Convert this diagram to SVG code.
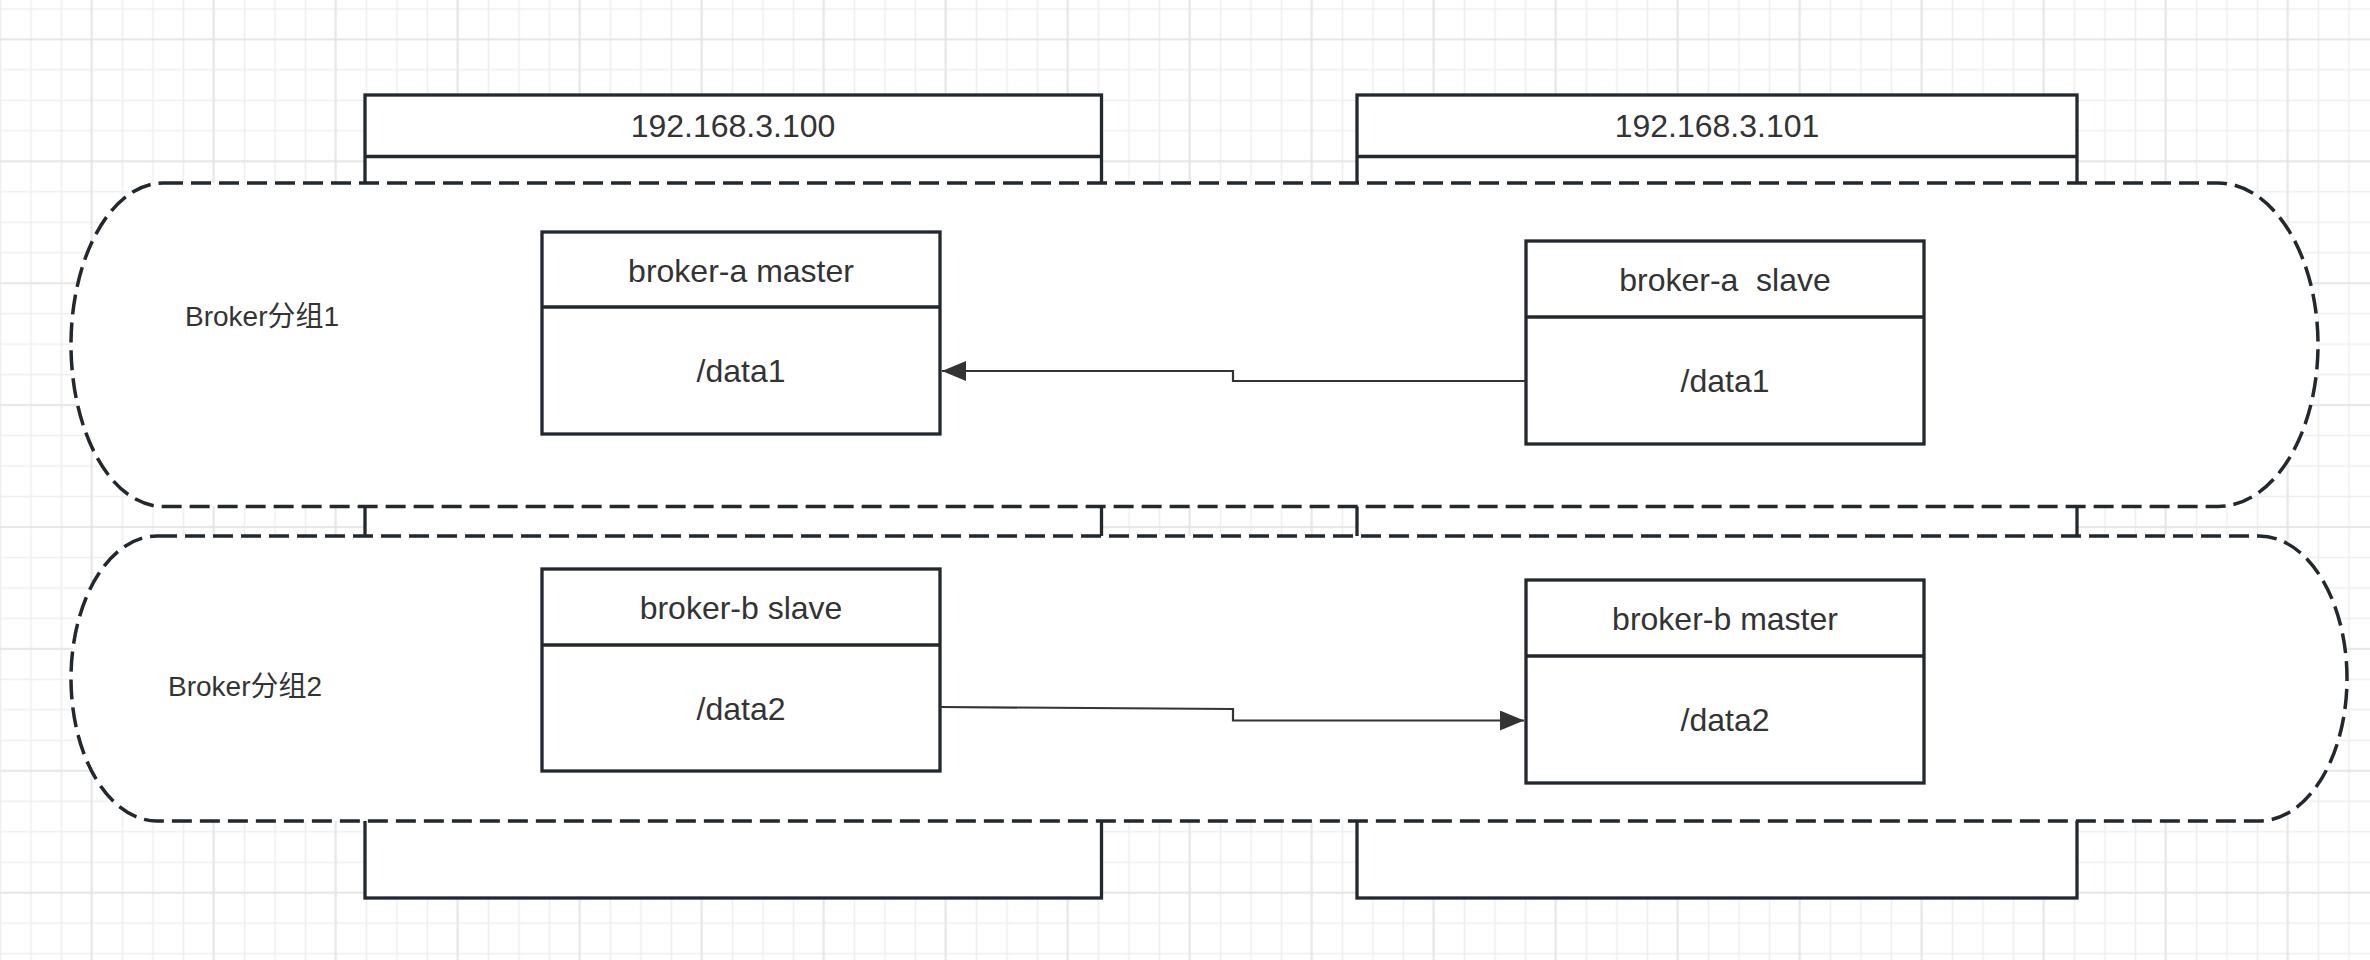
<svg xmlns="http://www.w3.org/2000/svg" width="2370" height="960" viewBox="0 0 2370 960">
  <defs>
    <pattern id="gridMinor" patternUnits="userSpaceOnUse" x="-14.75" y="-6.34" width="30.5" height="30.475">
      <path d="M15.25 0V30.475M0 15.2375H30.5" stroke="#efefef" stroke-width="1.6" fill="none"/>
    </pattern>
    <pattern id="gridMajor" patternUnits="userSpaceOnUse" x="30.5" y="-21.55" width="122" height="121.9">
      <path d="M61 0V121.9M0 60.95H122" stroke="#e4e4e4" stroke-width="1.6" fill="none"/>
    </pattern>
    <marker id="arrow" markerUnits="userSpaceOnUse" viewBox="0 0 24 20" refX="24" refY="10" markerWidth="24" markerHeight="20" orient="auto">
      <path d="M0 0L24 10L0 20Z" fill="#333333"/>
    </marker>
    <style>
      .box { fill: #ffffff; stroke: #22282e; stroke-width: 3.3; }
      .div { stroke: #22282e; stroke-width: 3.3; fill: none; }
      .group { fill: #ffffff; stroke: #22282e; stroke-width: 3.5; stroke-dasharray: 20 8; }
      .label { font-family: "Liberation Sans", Arial, "Noto Sans CJK SC", sans-serif; font-size: 32px; fill: #333333; text-anchor: middle; white-space: pre; }
      .glabel { font-family: "Liberation Sans", Arial, "Noto Sans CJK SC", sans-serif; font-size: 28px; fill: #333333; }
      .edge { fill: none; stroke: #333333; stroke-width: 2.2; }
    </style>
  </defs>

  <g id="background">
    <rect x="0" y="0" width="2370" height="960" fill="#ffffff"/>
    <rect x="0" y="0" width="2370" height="960" fill="url(#gridMinor)"/>
    <rect x="0" y="0" width="2370" height="960" fill="url(#gridMajor)"/>
  </g>

  <g id="host-100">
    <rect class="box" x="365" y="95" width="736.5" height="803"/>
    <line class="div" x1="365" y1="156.5" x2="1101.5" y2="156.5"/>
    <text class="label" x="733" y="137">192.168.3.100</text>
  </g>

  <g id="host-101">
    <rect class="box" x="1357" y="95" width="720" height="803"/>
    <line class="div" x1="1357" y1="156.5" x2="2077" y2="156.5"/>
    <text class="label" x="1717" y="137">192.168.3.101</text>
  </g>

  <g id="broker-group-1">
    <path class="group" d="M163,183 H2218 A100,161.75 0 0 1 2318,344.75 A100,161.75 0 0 1 2218,506.5 H163 A92,161.75 0 0 1 71,344.75 A92,161.75 0 0 1 163,183 Z"/>
    <text class="glabel" x="185" y="326">Broker分组1</text>
  </g>

  <g id="broker-group-2">
    <path class="group" d="M157,536 H2259 A88,142.5 0 0 1 2347,678.5 A88,142.5 0 0 1 2259,821 H157 A86,142.5 0 0 1 71,678.5 A86,142.5 0 0 1 157,536 Z"/>
    <text class="glabel" x="168" y="696">Broker分组2</text>
  </g>

  <g id="broker-a-master">
    <rect class="box" x="542" y="232" width="398" height="202"/>
    <line class="div" x1="542" y1="307" x2="940" y2="307"/>
    <text class="label" x="741" y="282">broker-a master</text>
    <text class="label" x="741" y="382">/data1</text>
  </g>

  <g id="broker-a-slave">
    <rect class="box" x="1526" y="241" width="398" height="203"/>
    <line class="div" x1="1526" y1="317" x2="1924" y2="317"/>
    <text class="label" x="1725" y="291">broker-a  slave</text>
    <text class="label" x="1725" y="392">/data1</text>
  </g>

  <g id="broker-b-slave">
    <rect class="box" x="542" y="569" width="398" height="202"/>
    <line class="div" x1="542" y1="645" x2="940" y2="645"/>
    <text class="label" x="741" y="619">broker-b slave</text>
    <text class="label" x="741" y="720">/data2</text>
  </g>

  <g id="broker-b-master">
    <rect class="box" x="1526" y="580" width="398" height="203"/>
    <line class="div" x1="1526" y1="656" x2="1924" y2="656"/>
    <text class="label" x="1725" y="630">broker-b master</text>
    <text class="label" x="1725" y="731">/data2</text>
  </g>

  <g id="connectors">
    <path class="edge" d="M1526,381 H1233 V371 H942" marker-end="url(#arrow)"/>
    <path class="edge" d="M940,707 L1233,709 V720.5 H1524" marker-end="url(#arrow)"/>
  </g>
</svg>
